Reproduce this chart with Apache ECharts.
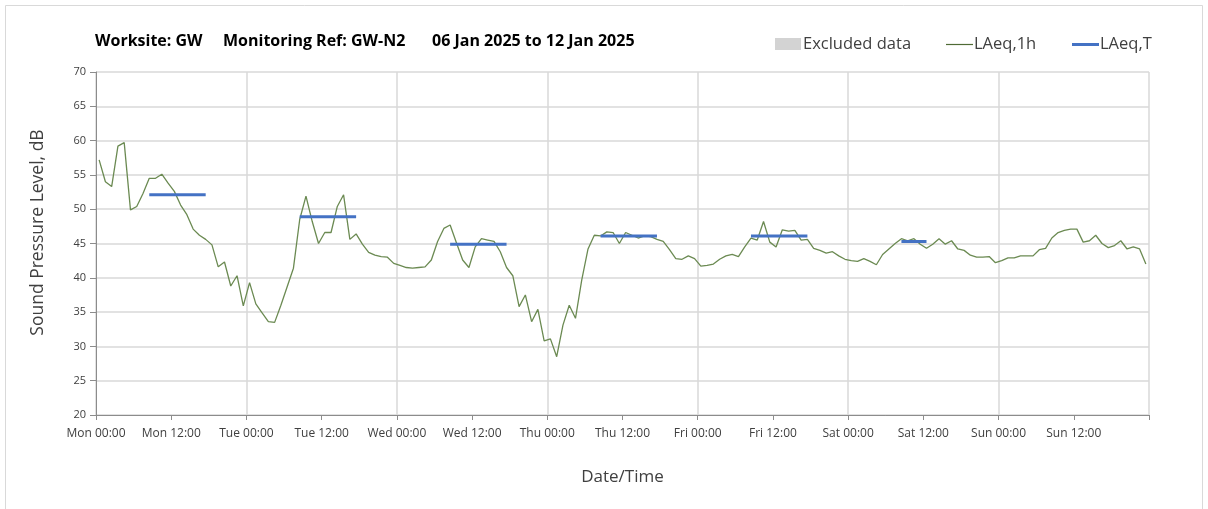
<!DOCTYPE html>
<html>
<head>
<meta charset="utf-8">
<script src="https://cdn.jsdelivr.net/npm/echarts@6/dist/echarts.min.js"></script>
<style>
  html, body { margin: 0; padding: 0; background: #ffffff; }
  #chart { width: 1208px; height: 509px; }
</style>
</head>
<body>
<div id="chart"></div>
<script>
// Tick labels every 12 hours across the monitoring week (hour 0 = Mon 00:00)
const tickLabels = ['Mon 00:00', 'Mon 12:00', 'Tue 00:00', 'Tue 12:00', 'Wed 00:00', 'Wed 12:00',
  'Thu 00:00', 'Thu 12:00', 'Fri 00:00', 'Fri 12:00', 'Sat 00:00', 'Sat 12:00',
  'Sun 00:00', 'Sun 12:00', ''];

// Hourly LAeq,1h values, dB (168 hours, Mon 00:00 to Sun 23:00)
const laeq1h = [
  // Mon
  57.2, 54.0, 53.3, 59.2, 59.7, 49.9, 50.4, 52.3, 54.5, 54.5, 55.1, 53.8,
  52.6, 50.6, 49.2, 47.1, 46.2, 45.6, 44.8, 41.6, 42.3, 38.8, 40.3, 35.9,
  // Tue
  39.3, 36.2, 34.9, 33.6, 33.5, 36.0, 38.7, 41.4, 48.5, 51.9, 48.2, 45.0,
  46.6, 46.6, 50.4, 52.1, 45.6, 46.4, 44.9, 43.7, 43.3, 43.1, 43.0, 42.1,
  // Wed
  41.8, 41.5, 41.4, 41.5, 41.6, 42.6, 45.3, 47.2, 47.7, 45.1, 42.6, 41.5,
  44.5, 45.7, 45.5, 45.3, 43.8, 41.5, 40.3, 35.8, 37.5, 33.6, 35.4, 30.8,
  // Thu
  31.1, 28.5, 33.1, 36.0, 34.1, 39.7, 44.2, 46.2, 46.1, 46.7, 46.6, 45.0,
  46.6, 46.2, 45.8, 46.1, 46.0, 45.6, 45.3, 44.1, 42.8, 42.7, 43.2, 42.8,
  // Fri
  41.7, 41.8, 42.0, 42.7, 43.2, 43.4, 43.1, 44.5, 45.8, 45.5, 48.2, 45.2,
  44.5, 47.0, 46.8, 46.9, 45.5, 45.6, 44.3, 44.0, 43.6, 43.8, 43.2, 42.7,
  // Sat
  42.5, 42.4, 42.8, 42.4, 41.9, 43.4, 44.2, 45.0, 45.7, 45.4, 45.7, 44.9,
  44.3, 44.9, 45.7, 44.9, 45.4, 44.2, 44.0, 43.3, 43.0, 43.0, 43.1, 42.2,
  // Sun
  42.5, 42.9, 42.9, 43.2, 43.2, 43.2, 44.1, 44.3, 45.8, 46.6, 46.9, 47.1,
  47.1, 45.2, 45.4, 46.2, 45.0, 44.4, 44.7, 45.4, 44.2, 44.5, 44.2, 42.0
];

// LAeq,T periods: first hour, last hour, level in dB
const periodStart = [8, 32, 56, 80, 104, 128];
const periodEnd   = [17, 41, 65, 89, 113, 132];
const periodLevel = [52.1, 48.9, 44.9, 46.1, 46.1, 45.3];

// Y-axis range, dB
const yMin = 20, yMax = 70, yStep = 5;

const chart = echarts.init(document.getElementById('chart'), null, { renderer: 'canvas' });

const FONT = '"Open Sans", "Lato", sans-serif';
const GREEN = '#6b8a52';
const BLUE = '#4472c4';
const TEXT = '#404040';

// Each hourly value is drawn at the middle of its hour
const hourlyData = laeq1h.map((v, i) => [i + 0.5, v]);

const periodSeries = periodStart.map((s, k) => ({
  name: 'LAeq,T',
  type: 'line',
  xAxisIndex: 0,
  data: [[s + 0.5, periodLevel[k]], [periodEnd[k] + 0.5, periodLevel[k]]],
  showSymbol: false,
  symbol: 'none',
  lineStyle: { color: BLUE, width: 3, cap: 'butt' },
  z: 4,
  silent: true
}));

const option = {
  backgroundColor: '#ffffff',
  animation: false,
  grid: { left: 96, right: 59, top: 72, bottom: 94, containLabel: false },
  xAxis: [
    {
      type: 'value', min: 0, max: 168, interval: 12,
      name: 'Date/Time', nameLocation: 'middle', nameGap: 54,
      nameTextStyle: { fontFamily: FONT, fontSize: 17, color: TEXT },
      axisLine: { show: true, lineStyle: { color: '#8c8c8c', width: 1 } },
      axisTick: { show: true, length: 5, lineStyle: { color: '#8c8c8c' } },
      axisLabel: {
        fontFamily: FONT, fontSize: 12, color: TEXT, margin: 13,
        showMinLabel: true, showMaxLabel: true,
        formatter: v => tickLabels[Math.round(v / 12)] || ''
      },
      splitLine: { show: false }
    },
    {
      // day boundaries drawn as vertical gridlines
      type: 'value', min: 0, max: 168, interval: 24, position: 'bottom',
      axisLine: { show: false }, axisTick: { show: false }, axisLabel: { show: false },
      splitLine: { show: true, lineStyle: { color: '#d9d9d9', width: 1.5 } }
    }
  ],
  yAxis: {
    type: 'value', min: yMin, max: yMax, interval: yStep,
    name: 'Sound Pressure Level, dB', nameLocation: 'middle', nameGap: 49,
    nameTextStyle: { fontFamily: FONT, fontSize: 17.5, color: TEXT, padding: [0, 0, 0, 22] },
    axisLine: { show: true, lineStyle: { color: '#8c8c8c', width: 1 } },
    axisTick: { show: true, length: 6, lineStyle: { color: '#8c8c8c' } },
    axisLabel: { fontFamily: FONT, fontSize: 11, color: TEXT, margin: 10 },
    splitLine: { show: true, lineStyle: { color: '#d9d9d9', width: 1.5 } }
  },
  series: [
    {
      name: 'LAeq,1h',
      type: 'line',
      xAxisIndex: 0,
      data: hourlyData,
      showSymbol: false,
      symbol: 'none',
      lineStyle: { color: GREEN, width: 1.3 },
      z: 3,
      silent: true
    }
  ].concat(periodSeries),
  graphic: [
    // chart frame
    {
      type: 'rect', silent: true, z: 0,
      shape: { x: 5.5, y: 5.5, width: 1197, height: 510 },
      style: { fill: null, stroke: '#d9d9d9', lineWidth: 1 }
    },
    // title
    {
      type: 'text', left: 95, top: 33,
      style: { text: 'Worksite: GW', fontFamily: FONT, fontWeight: 'bold', fontSize: 16, fill: '#000' }
    },
    {
      type: 'text', left: 223, top: 33,
      style: { text: 'Monitoring Ref: GW-N2', fontFamily: FONT, fontWeight: 'bold', fontSize: 16, fill: '#000' }
    },
    {
      type: 'text', left: 432, top: 33,
      style: { text: '06 Jan 2025 to 12 Jan 2025', fontFamily: FONT, fontWeight: 'bold', fontSize: 16, fill: '#000' }
    },
    // legend
    {
      type: 'rect', shape: { x: 775, y: 38, width: 26, height: 12 },
      style: { fill: '#d3d3d3' }
    },
    {
      type: 'text', left: 803, top: 36,
      style: { text: 'Excluded data', fontFamily: FONT, fontSize: 16.5, fill: TEXT }
    },
    {
      type: 'line', shape: { x1: 946, y1: 44.5, x2: 973, y2: 44.5 },
      style: { stroke: '#4f6b35', lineWidth: 1.2 }
    },
    {
      type: 'text', left: 974, top: 36,
      style: { text: 'LAeq,1h', fontFamily: FONT, fontSize: 16.5, fill: TEXT }
    },
    {
      type: 'line', shape: { x1: 1072, y1: 44.5, x2: 1099, y2: 44.5 },
      style: { stroke: BLUE, lineWidth: 3 }
    },
    {
      type: 'text', left: 1100, top: 36,
      style: { text: 'LAeq,T', fontFamily: FONT, fontSize: 16.5, fill: TEXT }
    }
  ]
};

chart.setOption(option);
</script>
</body>
</html>
